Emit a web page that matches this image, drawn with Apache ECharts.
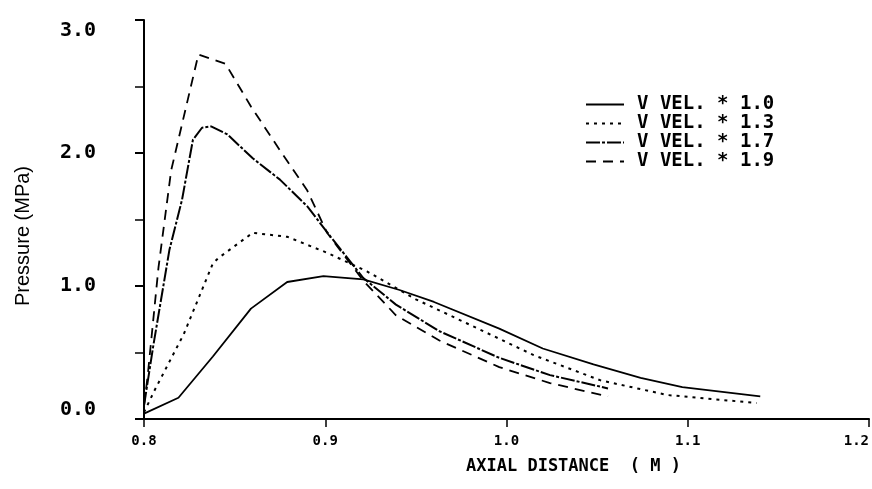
<!DOCTYPE html>
<html>
<head>
<meta charset="utf-8">
<script src="https://cdn.jsdelivr.net/npm/echarts@6/dist/echarts.min.js"></script>
<style>
  html, body { margin: 0; padding: 0; background: #fff; }
  #chart { width: 872px; height: 489px; }
</style>
</head>
<body>
<div id="chart"></div>
<script>
// legend names
var seriesNames = ['V VEL. * 1.0', 'V VEL. * 1.3', 'V VEL. * 1.7', 'V VEL. * 1.9'];

// [axial distance (m), pressure (MPa)]
var vel10 = [[0.800, 0.04], [0.819, 0.16], [0.838, 0.47], [0.859, 0.83], [0.879, 1.03],
  [0.899, 1.075], [0.921, 1.05], [0.941, 0.97], [0.960, 0.88], [0.996, 0.68],
  [1.020, 0.53], [1.048, 0.41], [1.074, 0.31], [1.097, 0.24], [1.140, 0.17]];
var vel13 = [[0.800, 0.05], [0.806, 0.22], [0.822, 0.64], [0.838, 1.17], [0.841, 1.21],
  [0.860, 1.40], [0.879, 1.37], [0.901, 1.25], [0.923, 1.11], [0.950, 0.90],
  [0.978, 0.72], [1.015, 0.48], [1.052, 0.29], [1.089, 0.18], [1.138, 0.12]];
var vel17 = [[0.800, 0.10], [0.805, 0.54], [0.814, 1.27], [0.821, 1.65], [0.827, 2.10],
  [0.832, 2.19], [0.837, 2.20], [0.846, 2.14], [0.860, 1.96], [0.875, 1.80],
  [0.890, 1.60], [0.903, 1.37], [0.921, 1.06], [0.939, 0.86], [0.963, 0.66],
  [0.996, 0.46], [1.024, 0.33], [1.056, 0.23]];
var vel19 = [[0.800, 0.10], [0.802, 0.32], [0.808, 1.14], [0.8125, 1.61], [0.815, 1.87],
  [0.830, 2.74], [0.845, 2.67], [0.859, 2.35], [0.875, 2.02], [0.890, 1.72],
  [0.901, 1.40], [0.921, 1.04], [0.939, 0.78], [0.963, 0.59], [0.996, 0.39],
  [1.024, 0.27], [1.056, 0.17]];

var xTicks = [0.8, 0.9, 1.0, 1.1, 1.2];
var yTicks = [0, 1, 2, 3];

var mono = '"DejaVu Sans Mono", monospace';

var chart = echarts.init(document.getElementById('chart'));

function lineSeries(name, data, type, width) {
  return {
    name: name,
    type: 'line',
    data: data,
    showSymbol: false,
    symbol: 'none',
    smooth: false,
    lineStyle: { color: '#000', width: width, type: type },
    itemStyle: { color: '#000' },
    z: 3
  };
}

chart.setOption({
  animation: false,
  backgroundColor: '#fff',
  grid: { left: 144, right: 3, top: 20, bottom: 70, containLabel: false, outerBoundsMode: 'none' },
  legend: {
    orient: 'vertical',
    left: 585,
    top: 95,
    padding: 0,
    itemWidth: 38,
    itemHeight: 12,
    itemGap: 0,
    itemStyle: { opacity: 0 },
    textStyle: { fontFamily: mono, fontWeight: 'bold', fontSize: 19, lineHeight: 19, color: '#000', padding: [0, 0, 0, 8] },
    data: seriesNames
  },
  xAxis: {
    type: 'value',
    min: 0.8,
    max: 1.2,
    interval: 0.1,
    axisLine: { lineStyle: { color: '#000', width: 2 } },
    axisTick: { show: true, inside: false, length: 8, lineStyle: { color: '#000', width: 1.5 } },
    splitLine: { show: false },
    axisLabel: {
      margin: 15,
      color: '#000',
      fontFamily: mono,
      fontWeight: 'bold',
      fontSize: 14,
      alignMaxLabel: 'right',
      formatter: function (v) {
        var t = xTicks.filter(function (x) { return Math.abs(x - v) < 1e-6; });
        return t.length ? t[0].toFixed(1) : '';
      }
    }
  },
  yAxis: {
    type: 'value',
    min: 0,
    max: 3,
    interval: 1,
    axisLine: { show: true, lineStyle: { color: '#000', width: 2 } },
    axisTick: { show: true, length: 9, lineStyle: { color: '#000', width: 2 } },
    minorTick: { show: true, splitNumber: 2, length: 9, lineStyle: { color: '#000', width: 1.5 } },
    splitLine: { show: false },
    axisLabel: {
      margin: 48,
      color: '#000',
      fontFamily: mono,
      fontWeight: 'bold',
      fontSize: 20,
      formatter: function (v) {
        var t = yTicks.filter(function (y) { return Math.abs(y - v) < 1e-6; });
        if (!t.length) return '';
        if (t[0] === 3) return '{top|3.0}';
        if (t[0] === 0) return '{bot|0.0}';
        return t[0].toFixed(1);
      },
      rich: {
        top: { fontFamily: mono, fontWeight: 'bold', fontSize: 20, color: '#000', padding: [22, 0, 0, 0] },
        bot: { fontFamily: mono, fontWeight: 'bold', fontSize: 20, color: '#000', padding: [0, 0, 18, 0] }
      }
    }
  },
  graphic: [
    {
      type: 'text',
      left: 13,
      top: 166,
      rotation: Math.PI / 2,
      style: { text: 'Pressure (MPa)', font: '20px "Liberation Sans", Arial, sans-serif', fill: '#000' }
    },
    {
      type: 'text',
      left: 466,
      top: 458,
      style: { text: 'AXIAL DISTANCE  ( M )', font: 'bold 17px "DejaVu Sans Mono", monospace', fill: '#000' }
    }
  ],
  series: [
    lineSeries(seriesNames[0], vel10, 'solid', 1.8),
    lineSeries(seriesNames[1], vel13, [3, 5], 2),
    lineSeries(seriesNames[2], vel17, [14, 2, 3, 2], 2),
    lineSeries(seriesNames[3], vel19, [10, 7], 1.8)
  ]
});
</script>
</body>
</html>
